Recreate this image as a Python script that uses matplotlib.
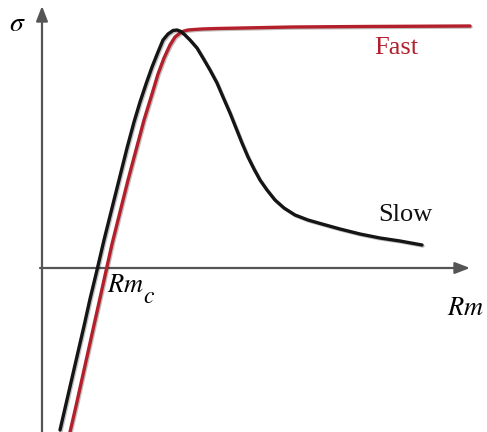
import matplotlib
matplotlib.use("Agg")
import matplotlib.pyplot as plt
import matplotlib.patheffects as pe

plt.rcParams["mathtext.fontset"] = "stix"

# Schematic curves (Rm measured from vertical axis, sigma measured from horizontal axis)
slow_rm = [18, 24, 30, 36, 42, 48, 55, 62, 70, 78, 85, 92, 98, 104, 110, 116, 121, 126,
           131, 135, 139, 143, 148, 155, 161, 168, 175, 181, 188, 194, 200, 206, 212,
           218, 225, 233, 242, 253, 266, 280, 298, 318, 338, 358, 380]
slow_sigma = [-162, -136, -110, -84, -58, -31, -2, 28, 60, 92, 120, 146, 166, 184, 201,
              216, 228, 234, 237.5, 238, 236.5, 233, 228, 220, 210, 198, 185, 171, 155,
              140, 125, 111, 99, 88, 78, 68, 60, 53, 48, 44, 39, 34, 30, 27, 23]
fast_rm = [28, 34, 40, 46, 52, 58, 64, 70, 78, 86, 94, 102, 110, 116, 122, 128, 133,
           138, 142, 146, 152, 160, 175, 200, 250, 320, 428]
fast_sigma = [-164, -138, -111, -84, -57, -30, -3, 24, 56, 88, 118, 148, 174, 194,
              210, 223, 231, 235, 237, 238, 238.5, 239, 239.5, 240, 241, 241.5, 242]

fig = plt.figure(figsize=(4.87, 4.32), dpi=100)
ax = fig.add_axes([0, 0, 1, 1])
ax.set_xlim(-42, 445)
ax.set_ylim(-164, 268)
ax.axis("off")

# axes with arrows
ax.annotate("", xy=(428, 0), xytext=(-2, 0),
            arrowprops=dict(arrowstyle="-|>,head_length=0.9,head_width=0.35",
                            color="#555555", lw=1.6, shrinkA=0, shrinkB=0))
ax.annotate("", xy=(0, 262), xytext=(0, -164),
            arrowprops=dict(arrowstyle="-|>,head_length=0.9,head_width=0.35",
                            color="#555555", lw=1.6, shrinkA=0, shrinkB=0))

shadow = [pe.SimpleLineShadow(offset=(0.8, -0.8), alpha=0.25), pe.Normal()]
ax.plot(fast_rm, fast_sigma, color="#b3202c", lw=2.4, solid_capstyle="round",
        solid_joinstyle="round", path_effects=shadow, zorder=3)
ax.plot(slow_rm, slow_sigma, color="#151515", lw=2.4, solid_capstyle="round",
        solid_joinstyle="round", path_effects=shadow, zorder=4)

serif = "Liberation Serif"
ax.text(-25, 245, r"$\sigma$", fontsize=20, ha="center", va="center")
ax.text(354, 220, "Fast", color="#b3202c", fontsize=19, ha="center", va="center",
        fontfamily=serif)
ax.text(363, 53, "Slow", color="#111111", fontsize=19, ha="center", va="center",
        fontfamily=serif)
ax.text(65, -24, r"$Rm$", fontsize=19, ha="left", va="baseline")
ax.text(101, -35, r"$c$", fontsize=17, ha="left", va="baseline")
ax.text(405, -40, r"$Rm$", fontsize=19, ha="left", va="center")

fig.savefig("out.png", dpi=100)
